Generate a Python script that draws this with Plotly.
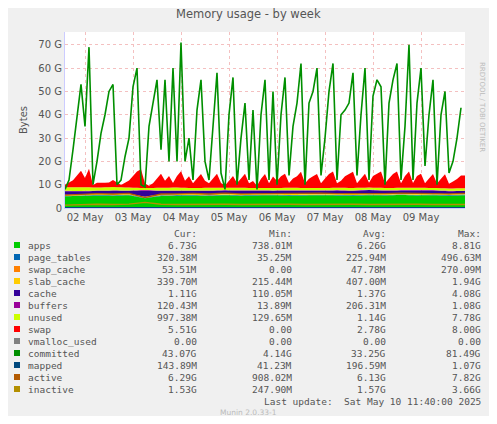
import plotly.graph_objects as go
import pandas as pd

t0 = pd.Timestamp("2025-05-01 14:00")
# committed / swap sampled every 2 hours
committed = [8,12,25,40,53,35,69,10,20,32,40,50,53,10,12,22,30,52,60,10,9,35,45,55,25,55,20,60,20,71,
             20,30,12,42,55,20,12,35,58,15,8,40,56,10,30,45,12,42,8,40,55,12,50,10,40,56,14,35,45,62,
             10,45,50,60,14,30,50,62,12,40,42,45,58,14,40,60,12,48,55,52,10,45,55,62,12,35,70,12,45,60,
             18,40,55,10,40,50,15,20,30,43]
swap = [1,2,3,5,7,4,8,1,2,2,2,2,3,2,1,2,3,5,7,8,2,1,2,4,6,3,5,2,5,7,3,5,2,4,6,3,2,4,6,2,1,3,5,2,4,6,2,3,1,4,
        6,2,5,3,5,6,2,4,5,7,2,4,5,6,2,4,6,7,2,3,5,6,7,2,4,6,2,5,6,7,2,4,6,7,2,5,7,2,5,6,2,4,6,2,4,6,2,3,4,5.5]
# stacked components sampled every 8 hours (GB)
apps = [5.0,5.2,5.4,5.3,5.5,4.2,5.2,5.3,5.4,5.2,5.5,5.3,5.4,5.5,5.3,5.4,5.5,5.4,5.3,5.5,5.4,5.6,5.4,5.5,5.3,5.5]
page_tables = [0.2,0.2,0.22,0.22,0.2,0.2,0.22,0.23,0.22,0.22,0.23,0.22,0.23,0.22,0.23,0.22,0.23,0.22,0.23,0.24,0.23,0.22,0.23,0.24,0.25,0.32]
swap_cache = [0.05,0.04,0.05,0.05,0.04,0.05,0.05,0.04,0.05,0.05,0.04,0.05,0.05,0.04,0.05,0.05,0.04,0.05,0.05,0.04,0.05,0.05,0.04,0.05,0.05,0.05]
slab_cache = [0.4,0.4,0.42,0.4,0.41,0.4,0.42,0.4,0.41,0.4,0.42,0.4,0.41,0.4,0.42,0.4,0.41,0.4,0.42,0.4,0.41,0.4,0.42,0.4,0.41,0.34]
cache = [1.5,1.3,1.2,1.4,1.2,2.6,1.4,1.3,1.2,1.4,1.3,1.4,1.3,1.2,1.4,1.3,1.2,1.4,1.3,1.5,1.3,1.2,1.4,1.3,1.2,1.1]
buffers = [0.2,0.2,0.2,0.2,0.2,0.3,0.2,0.2,0.2,0.2,0.2,0.2,0.2,0.2,0.2,0.2,0.2,0.2,0.2,0.2,0.2,0.2,0.2,0.2,0.2,0.12]
unused = [1.6,1.6,1.3,1.4,1.2,0.8,1.2,1.3,1.1,1.2,1.0,1.1,1.0,1.0,1.1,1.0,1.0,1.0,1.1,0.9,1.0,1.0,1.0,0.9,1.0,1.0]
mapped = [0.2,0.2,0.2,0.2,0.2,0.2,0.2,0.2,0.2,0.2,0.2,0.2,0.2,0.2,0.2,0.2,0.2,0.2,0.2,0.2,0.2,0.2,0.2,0.2,0.2,0.15]
active = [5.5,5.8,6.2,6.0,6.3,4.5,6.0,6.1,6.3,6.0,6.4,6.1,6.2,6.3,6.1,6.2,6.4,6.2,6.1,6.3,6.2,6.4,6.2,6.3,6.1,6.3]
inactive = [1.2,1.5,1.6,1.5,1.7,2.4,1.6,1.5,1.6,1.5,1.6,1.5,1.6,1.5,1.6,1.5,1.6,1.5,1.6,1.5,1.6,1.5,1.6,1.5,1.6,1.5]

legend_rows = [
 ("apps","#00CC00","6.73G","738.01M","6.26G","8.81G"),
 ("page_tables","#0066B3","320.38M","35.25M","225.94M","496.63M"),
 ("swap_cache","#FF8000","53.51M","0.00","47.78M","270.09M"),
 ("slab_cache","#FFCC00","339.70M","215.44M","407.00M","1.94G"),
 ("cache","#330099","1.11G","110.05M","1.37G","4.08G"),
 ("buffers","#990099","120.43M","13.89M","206.31M","1.08G"),
 ("unused","#CCFF00","997.38M","129.65M","1.14G","7.78G"),
 ("swap","#FF0000","5.51G","0.00","2.78G","8.00G"),
 ("vmalloc_used","#808080","0.00","0.00","0.00","0.00"),
 ("committed","#008F00","43.07G","4.14G","33.25G","81.49G"),
 ("mapped","#00487D","143.89M","41.23M","196.59M","1.07G"),
 ("active","#B35A00","6.29G","908.02M","6.13G","7.82G"),
 ("inactive","#B38F00","1.53G","247.90M","1.57G","3.66G"),
]

xf = [t0 + pd.Timedelta(hours=2*i) for i in range(len(committed))]
xs = [t0 + pd.Timedelta(hours=8*i) for i in range(len(apps))]
col = {r[0]: r[1] for r in legend_rows}

fig = go.Figure()
for name, arr in [("apps",apps),("page_tables",page_tables),("swap_cache",swap_cache),("slab_cache",slab_cache),
                  ("cache",cache),("buffers",buffers),("unused",unused)]:
    fig.add_trace(go.Scatter(x=xs, y=arr, stackgroup="s", stackgaps="interpolate", mode="none",
                             fillcolor=col[name], name=name))
fig.add_trace(go.Scatter(x=xf, y=swap, stackgroup="s", stackgaps="interpolate", mode="none",
                         fillcolor=col["swap"], name="swap"))
fig.add_trace(go.Scatter(x=xf, y=committed, mode="lines", line=dict(color=col["committed"], width=1.6)))
for name, arr in [("mapped",mapped),("active",active),("inactive",inactive)]:
    fig.add_trace(go.Scatter(x=xs, y=arr, mode="lines", line=dict(color=col[name], width=1.3)))

OFF = 8
W, H = 497 - 2*OFF, 424 - 2*OFF
L, R, T, B = 65 - OFF, 465 - OFF, 32 - OFF, 208 - OFF
def px(x): return (x - OFF - L) / (R - L)
def py(y): return (B - (y - OFF)) / (B - T)

mono = "DejaVu Sans Mono"
ann = []
def txt(x, y, s, anchor="left", size=9.5, color="#555555", font=mono):
    ann.append(dict(x=px(x), y=py(y), xref="paper", yref="paper", text=s, showarrow=False,
                    xanchor=anchor, yanchor="middle", font=dict(family=font, size=size, color=color)))
cols = [199, 294, 388, 483]
for c, h in zip(cols, ["Cur:", "Min:", "Avg:", "Max:"]):
    txt(c, 233, h, "right")
shapes = []
for i, r in enumerate(legend_rows):
    y = 245 + 12*i
    shapes.append(dict(type="rect", xref="paper", yref="paper", x0=px(14), x1=px(20), y0=py(y+3), y1=py(y-3),
                       fillcolor=r[1], line=dict(width=0)))
    txt(26, y, r[0])
    for c, v in zip(cols, r[2:]):
        txt(c, y, v, "right")
txt(483, 401, "Last update:  Sat May 10 11:40:00 2025", "right")
txt(248, 412, "Munin 2.0.33-1", "center", 7.5, "#bbbbbb", "DejaVu Sans")
txt(248, 14, "Memory usage - by week", "center", 11.5, "#555555", "DejaVu Sans")
ann.append(dict(x=px(488), y=py(60), xref="paper", yref="paper", text="RRDTOOL / TOBI OETIKER", showarrow=False,
                textangle=90, font=dict(family="DejaVu Sans", size=7, color="#bbbbbb")))

fig.update_layout(
    width=W, height=H, margin=dict(l=L, r=W-R, t=T, b=H-B), showlegend=False,
    paper_bgcolor="#f0f0f0", plot_bgcolor="#ffffff", annotations=ann, shapes=shapes,
    font=dict(family="DejaVu Sans", size=10, color="#555555"),
    xaxis=dict(type="date", range=[t0, t0 + pd.Timedelta(hours=200)], tickformat="%d %b",
               dtick=86400000, tick0="2025-05-02", showgrid=True, gridcolor="#f4c0c0", griddash="dot",
               showline=True, linecolor="#ccccff", ticks="", tickfont=dict(size=10, color="#555555")),
    yaxis=dict(range=[0, 75.5], tickvals=[0,10,20,30,40,50,60,70],
               ticktext=["0","10 G","20 G","30 G","40 G","50 G","60 G","70 G"],
               showgrid=True, gridcolor="#f4c0c0", griddash="dot", showline=True, linecolor="#ccccff",
               zeroline=False, title=dict(text="Bytes", font=dict(size=10), standoff=8)),
)
fig.write_html("out.html")
